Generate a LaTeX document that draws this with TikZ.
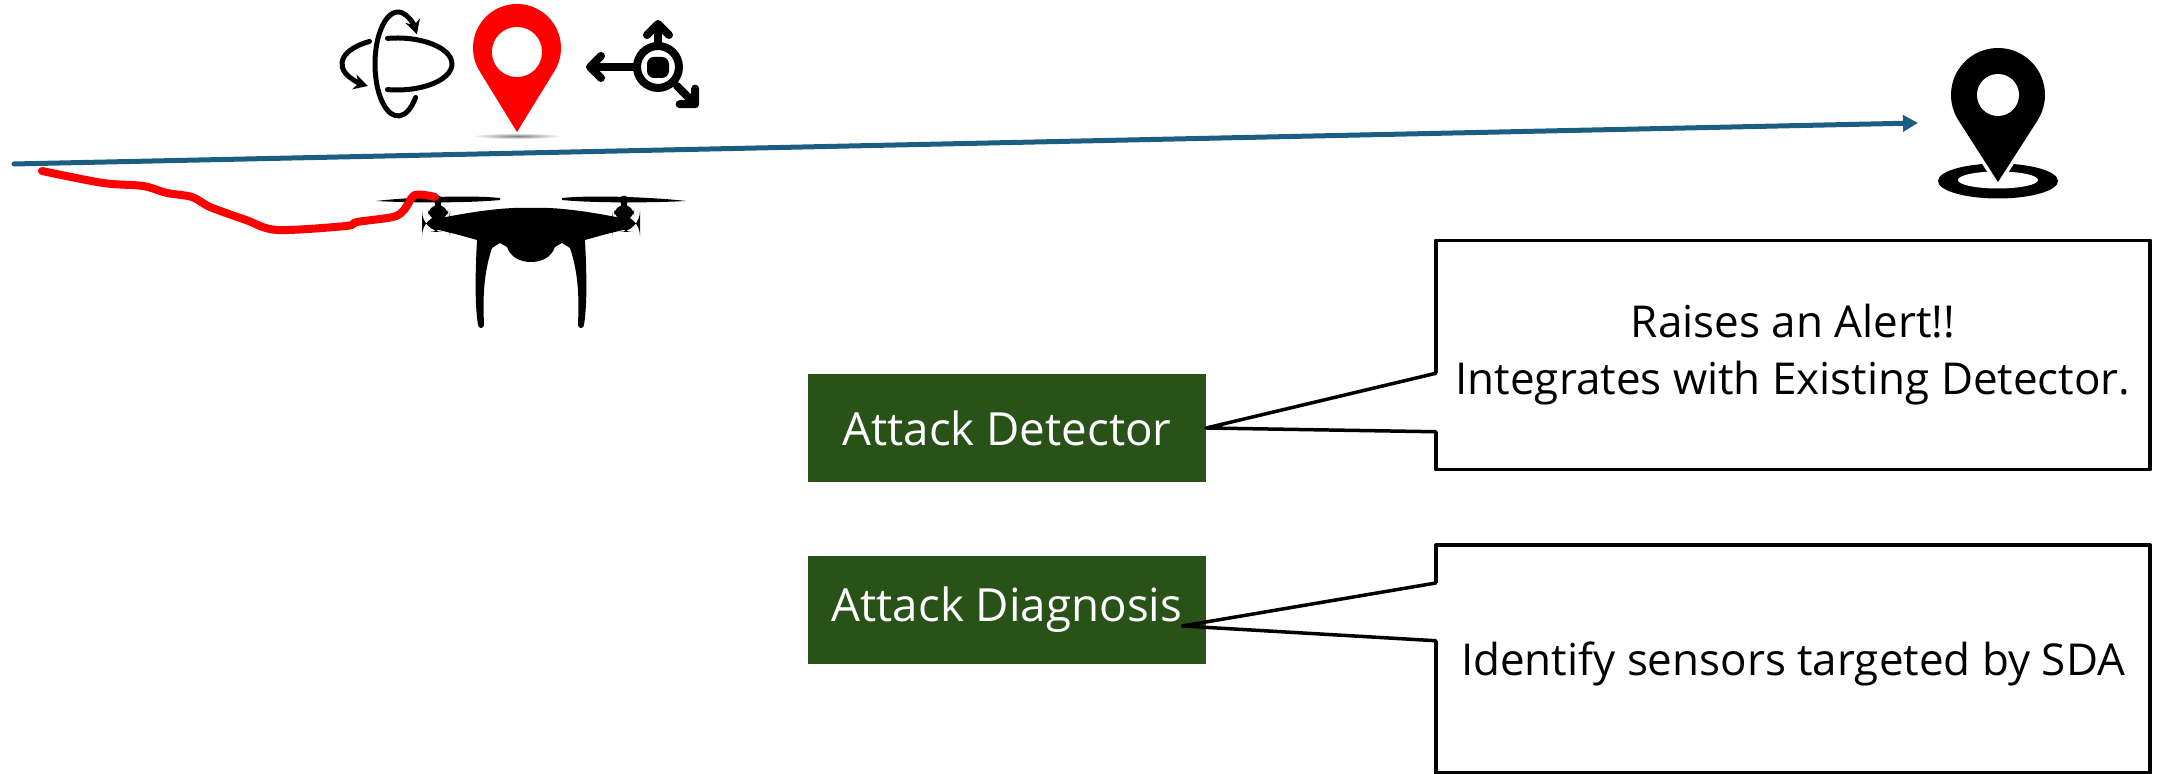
\documentclass[tikz,border=0pt]{standalone}
\usepackage{fontspec}
\setmainfont{Open Sans}
\usetikzlibrary{arrows.meta,calc,positioning}
\definecolor{trackblue}{RGB}{27,94,130}
\definecolor{stagegreen}{RGB}{41,82,25}

\begin{document}
\begin{tikzpicture}[x=0.01cm, y=-0.01cm, line cap=round, line join=round, font=\fontsize{12.5}{16.2}\selectfont]
	\tikzset{stage/.style={fill=stagegreen, text=white, minimum width=3.97cm, minimum height=1.07cm, inner sep=0pt, font=\fontsize{13}{15}\selectfont},
		note/.style={draw, line width=0.035cm, fill=white, minimum width=7.14cm, minimum height=2.29cm, inner sep=0pt, outer sep=0pt, align=center},
		icon/.style={line width=0.05cm},
		move/.style={line width=0.08cm, -{Straight Barb[length=1.1mm,width=2.2mm,round]}}}
	\useasboundingbox (0,0) rectangle (2159,774);

	% attitude, position and motion icons
	\draw[icon, -{Stealth[length=1.4mm,width=1.5mm]}] ($(398,64)+(40:23 and 52)$) arc[start angle=40, end angle=325, x radius=23, y radius=52];
	\draw[icon] ($(397,64)+(-100:55 and 26)$) arc[start angle=-100, end angle=100, x radius=55, y radius=26];
	\draw[icon, -{Stealth[length=1.4mm,width=1.5mm]}] ($(397,64)+(240:55 and 26)$) arc[start angle=240, end angle=122, x radius=55, y radius=26];

	\shade[inner color=black!50, outer color=white] (517,136) ellipse[x radius=45, y radius=3];
	\fill[red] (517,132) -- ($(517,48)+(31.6:44)$) arc[start angle=31.6, end angle=-211.6, radius=44] -- cycle;
	\fill[white] (517,52) circle[radius=25];

	\draw[line width=0.08cm, rounded corners=6] (637,46) rectangle (679,88);
	\fill[rounded corners=2] (647,57) rectangle (669,78);
	\draw[move] (637,67) -- (586,67);
	\draw[move] (658,46) -- (658,20);
	\draw[move] (677,86) -- (698,107);

	% goal
	\fill (1998,181) ellipse[x radius=60, y radius=17.5];
	\fill[white] (1998,180) ellipse[x radius=40, y radius=8.5];
	\fill[preaction={draw=white, line width=0.07cm}] (1998,182) -- ($(1998,95)+(32.7:47)$) arc[start angle=32.7, end angle=-212.7, radius=47] -- cycle;
	\fill[white] (1998,95) circle[radius=21];

	\coordinate (start) at (14,164);
	\coordinate (goal) at (1918,123);
	\draw[trackblue, line width=0.05cm, -{Triangle[length=1.5mm,width=1.6mm]}] (start) -- (goal);

	% drone
	\foreach \s in {1,-1}{
		\begin{scope}[shift={(531,200)}, xscale=\s]
			\fill (31,-2) .. controls (60,-5) and (120,-3) .. (155,1) .. controls (120,3) and (60,3) .. (31,0) -- cycle;
			\fill (93,0) circle[radius=4.5];
			\fill (90,0) rectangle (96,8);
			\fill[rounded corners=3] (83,5) rectangle (103,20);
			\fill[rounded corners=6] (81,15) rectangle (109,32);
			\fill (0,8) -- (17,8) .. controls (40,9) and (65,13) .. (90,18) -- (100,28) -- (72,35) -- (54,40) .. controls (56,80) and (56,105) .. (53,125) arc[start angle=0, end angle=180, radius=3] .. controls (48,100) and (48,75) .. (39,48) -- (31,43) -- (24,47) .. controls (20,58) and (10,62) .. (0,62) -- cycle;
		\end{scope}}

	\draw[red, line width=0.08cm] plot[smooth, tension=0.5] coordinates {(42,171) (103,183) (143,186) (167,193) (192,197) (210,207) (246,220) (277,230) (346,226) (357,222) (393,217) (404,210) (415,195) (435,197)};

	% detector and diagnosis
	\node[stage] (detector) at (1007,428) {Attack Detector};
	\node[stage] (diagnosis) at (1007,610) {Attack Diagnosis};
	\node[note] (alert) at (1793,355) {Raises an Alert!!\\Integrates with Existing Detector.};
	\node[note, minimum height=2.28cm, text depth=0pt] (sensors) at (1793,659) {Identify sensors targeted by SDA};

	\coordinate (alertA) at ($(alert.north west)!0.58!(alert.south west)$);
	\coordinate (alertB) at ($(alert.north west)!0.835!(alert.south west)$);
	\coordinate (sensorsA) at ($(sensors.north west)!0.167!(sensors.south west)$);
	\coordinate (sensorsB) at ($(sensors.north west)!0.42!(sensors.south west)$);
	\coordinate (diagtip) at ($(diagnosis.east)+(-24,16)$);
	\fill[white] ([xshift=-1mm]alertA) rectangle ([xshift=1mm]alertB);
	\fill[white] ([xshift=-1mm]sensorsA) rectangle ([xshift=1mm]sensorsB);
	\draw[line width=0.035cm] (alertA) -- (detector.east) -- (alertB);
	\draw[line width=0.035cm] (sensorsA) -- (diagtip) -- (sensorsB);
\end{tikzpicture}
\end{document}
